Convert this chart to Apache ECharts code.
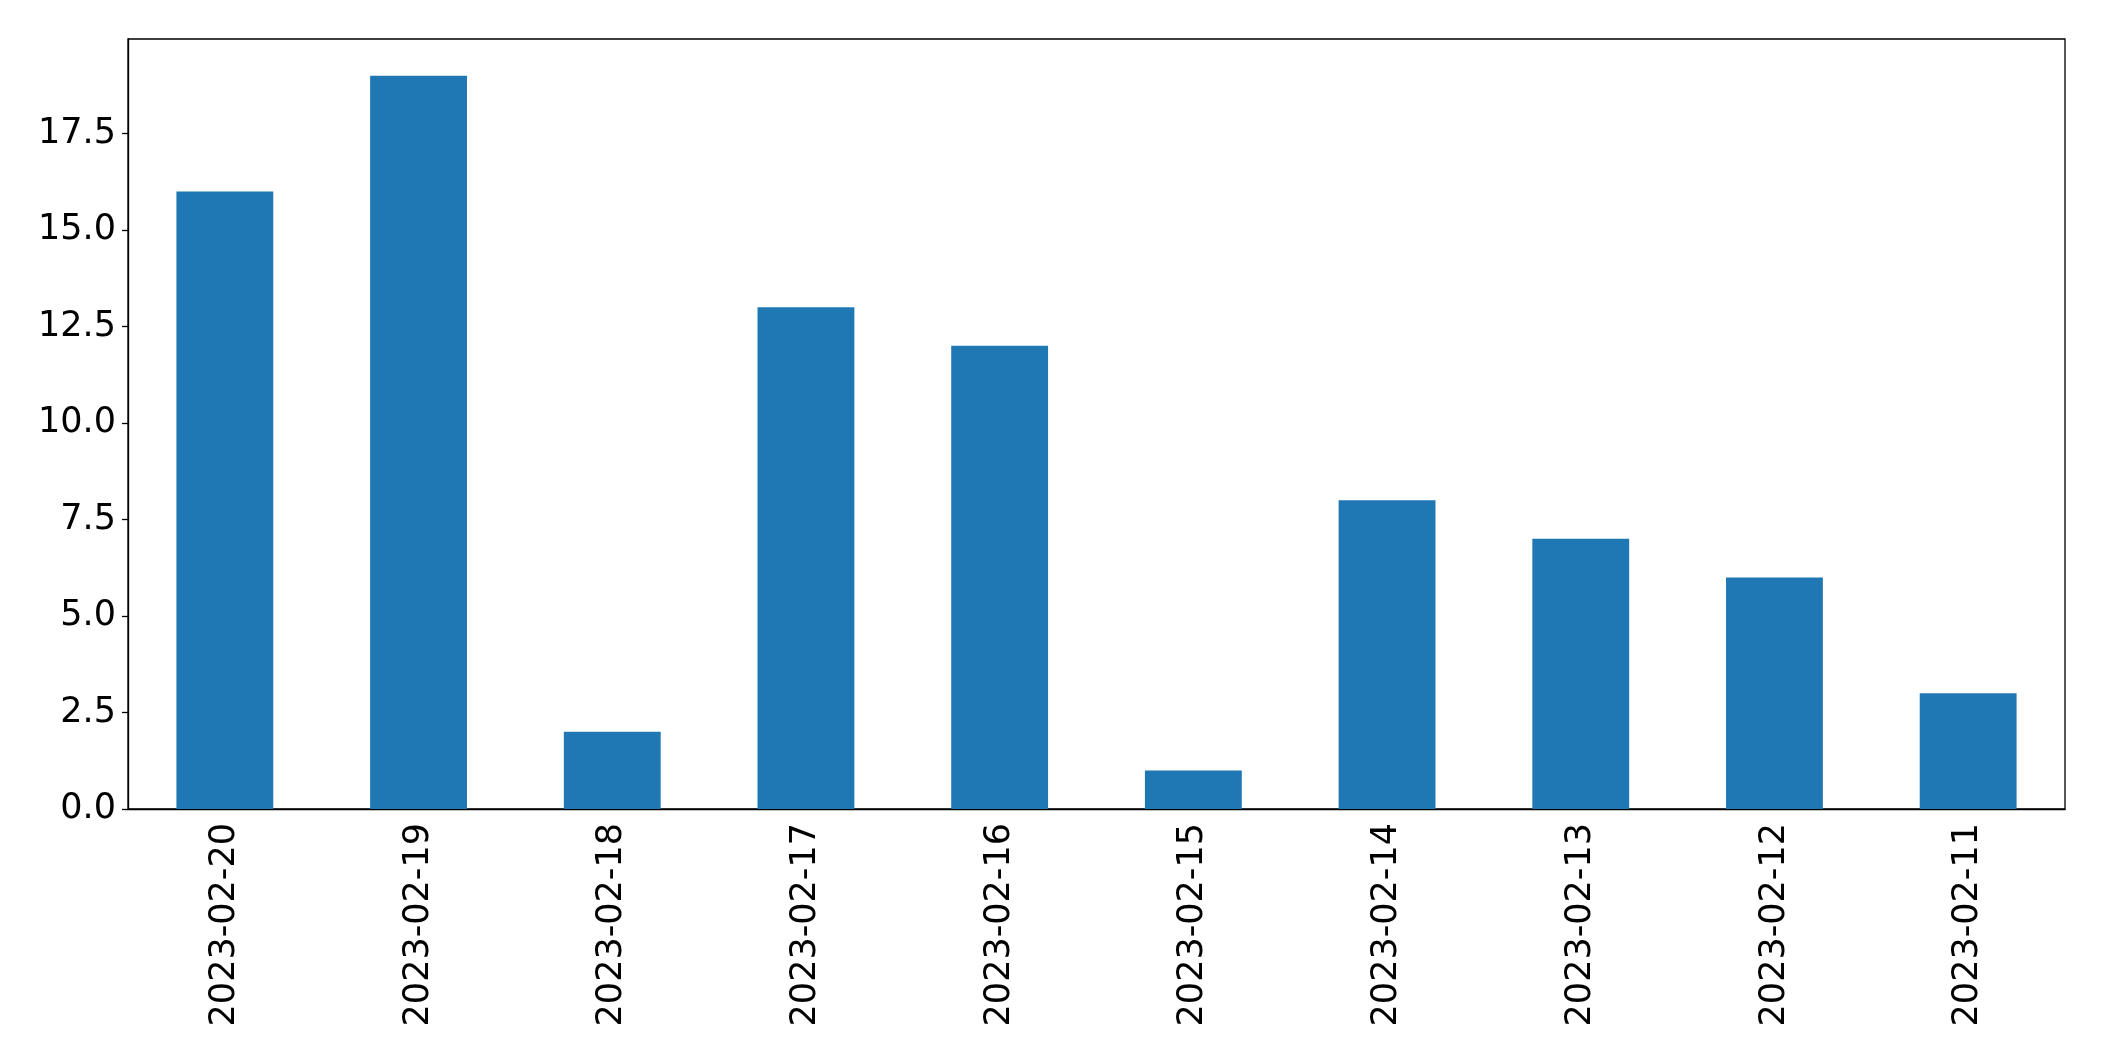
<!DOCTYPE html>
<html>
<head>
<meta charset="utf-8">
<script src="https://cdn.jsdelivr.net/npm/echarts@6/dist/echarts.min.js"></script>
<style>html,body{margin:0;padding:0;background:#fff}#c{width:2104px;height:1061px}</style>
</head>
<body>
<div id="c"></div>
<script>
const categories = ['2023-02-20','2023-02-19','2023-02-18','2023-02-17','2023-02-16','2023-02-15','2023-02-14','2023-02-13','2023-02-12','2023-02-11'];
const values = [16, 19, 2, 13, 12, 1, 8, 7, 6, 3];
const yTicks = [0, 2.5, 5, 7.5, 10, 12.5, 15, 17.5];

const chart = echarts.init(document.getElementById('c'));
chart.setOption({
  animation: false,
  grid: {left: 128, right: 39, top: 39, bottom: 252, show: true, borderColor: '#000', borderWidth: 1.3, backgroundColor: 'transparent'},
  xAxis: {
    type: 'category', data: categories,
    axisLine: {lineStyle: {color: '#000', width: 1.3}},
    axisTick: {alignWithLabel: true, length: 6, lineStyle: {color: '#000', width: 1.3}},
    axisLabel: {rotate: 90, interval: 0, fontSize: 35, color: '#000', fontFamily: 'DejaVu Sans', margin: 14}
  },
  yAxis: {
    type: 'value', min: 0, max: 19.95, interval: 2.5,
    splitLine: {show: false},
    axisLine: {show: true, lineStyle: {color: '#000', width: 1.3}},
    axisTick: {show: true, length: 6, customValues: yTicks, lineStyle: {color: '#000', width: 1.3}},
    axisLabel: {fontSize: 35, color: '#000', fontFamily: 'DejaVu Sans', margin: 12, customValues: yTicks, formatter: v => v.toFixed(1)}
  },
  series: [{type: 'bar', data: values, barWidth: '50%', itemStyle: {color: '#1f77b4'}}]
});
</script>
</body>
</html>
